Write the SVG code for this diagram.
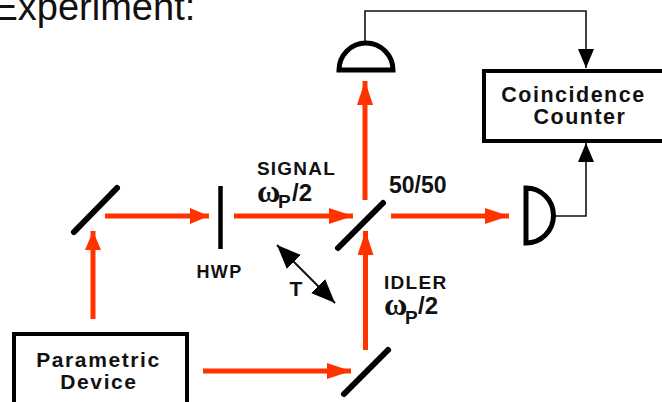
<svg xmlns="http://www.w3.org/2000/svg" width="662" height="402" viewBox="0 0 662 402">
<style>
.t{font-family:"Liberation Sans",Arial,sans-serif;font-weight:bold;fill:#111}
.o{font-family:"Liberation Serif","Times New Roman",serif;font-weight:bold;fill:#111;font-size:32px}
.m{stroke:#000;stroke-width:6;stroke-linecap:round;fill:none}
.r{stroke:#ff3300;stroke-width:5;fill:none;marker-end:url(#ra)}
.b{stroke:#111;stroke-width:1.6;fill:none}
.box{fill:#fff;stroke:#000;stroke-width:4}
.d{fill:#fff;stroke:#000;stroke-width:5}
</style>
<defs>
<marker id="ra" markerUnits="userSpaceOnUse" markerWidth="24" markerHeight="16" refX="24" refY="8" orient="auto"><path d="M0 0L24 8L0 16Z" fill="#ff3300"/></marker>
<marker id="rs" markerUnits="userSpaceOnUse" markerWidth="19" markerHeight="16" refX="19" refY="8" orient="auto"><path d="M0 0L19 8L0 16Z" fill="#ff3300"/></marker>
<marker id="ba" markerUnits="userSpaceOnUse" markerWidth="19" markerHeight="16" refX="19" refY="8" orient="auto"><path d="M0 0L19 8L0 16Z" fill="#000"/></marker>
<marker id="ts" markerUnits="userSpaceOnUse" markerWidth="24" markerHeight="20" refX="24" refY="10" orient="auto-start-reverse"><path d="M0 0L24 10L0 20Z" fill="#000"/></marker>
</defs>
<text x="-7.500" y="20" font-family="Liberation Sans,Arial,sans-serif" font-size="38" fill="#111">Experiment:</text>
<g id="connectors">
<path class="r" style="marker-end:url(#rs)" d="M93 319V231"/>
<path class="r" style="marker-end:url(#rs)" d="M105 216H209"/>
<path class="r" d="M234 216H353"/>
<path class="r" d="M365 200V81"/>
<path class="r" d="M391 216H509"/>
<path class="r" d="M365.500 350V231"/>
<path class="r" d="M203 371H351"/>
<path class="b" d="M365 42V11H586V68" marker-end="url(#ba)"/>
<path class="b" d="M555 216H586V143" marker-end="url(#ba)"/>
<path class="b" style="stroke-width:2" d="M277 245L335 303" marker-start="url(#ts)" marker-end="url(#ts)"/>
</g>
<g id="mirror-1"><path class="m" d="M74 232L117 188"/></g>
<g id="hwp"><path d="M220.500 186V249" stroke="#000" stroke-width="4.500"/><text class="t" x="219.500" y="278" font-size="18" text-anchor="middle" letter-spacing="1.400">HWP</text></g>
<g id="beam-splitter"><path class="m" d="M338 248L383 203"/><text class="t" x="389" y="193" font-size="23">50/50</text></g>
<g id="mirror-3"><path class="m" d="M344 394L388 350"/></g>
<g id="parametric-device"><rect class="box" x="14" y="334" width="173" height="90"/>
<text class="t" x="98.500" y="366.500" font-size="21" text-anchor="middle" letter-spacing="1.600">Parametric</text>
<text class="t" x="99" y="389" font-size="21" text-anchor="middle" letter-spacing="1.600">Device</text></g>
<g id="coincidence-counter"><rect class="box" x="484" y="71" width="200" height="70"/>
<text class="t" x="573.500" y="102" font-size="21.500" text-anchor="middle" letter-spacing="1.500">Coincidence</text>
<text class="t" x="580" y="124" font-size="21.500" text-anchor="middle" letter-spacing="1.500">Counter</text></g>
<g id="detector-top"><path class="d" d="M339 70A27 27 0 0 1 393 70Z"/></g>
<g id="detector-right"><path class="d" d="M526 188A27 27 0 0 1 526 243Z"/></g>
<g id="signal-label"><text class="t" x="257" y="175" font-size="19" letter-spacing="1.200">SIGNAL</text>
<text class="o" x="257" y="201.500">ω</text>
<text class="t" x="278" y="208" font-size="19">P</text><text class="t" x="292" y="201" font-size="24">/2</text></g>
<g id="idler-label"><text class="t" x="384" y="289" font-size="19" letter-spacing="1.300">IDLER</text>
<text class="o" x="384" y="315">ω</text>
<text class="t" x="405" y="324" font-size="19">P</text><text class="t" x="418" y="314" font-size="24">/2</text></g>
<g id="t-label"><text class="t" x="296" y="295.500" font-size="21" text-anchor="middle">T</text></g>
</svg>
